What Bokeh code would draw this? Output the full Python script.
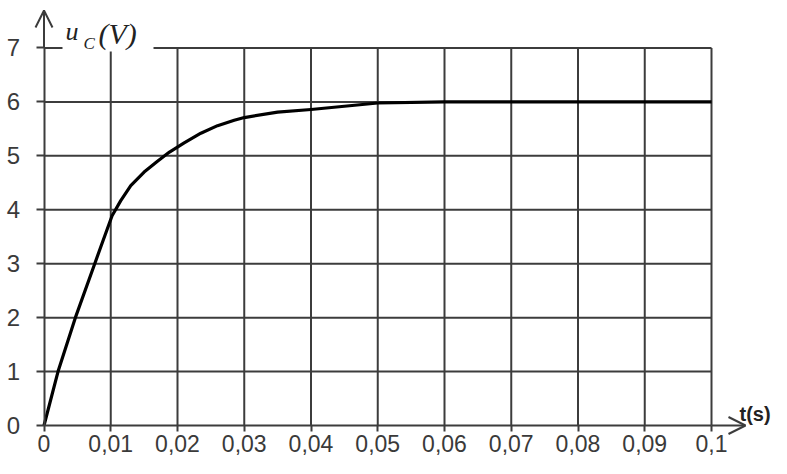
from bokeh.plotting import figure
from bokeh.models import Range1d, FixedTicker, Arrow, OpenHead, Label, BoxAnnotation, ColumnDataSource
from bokeh.embed import file_html
from bokeh.resources import INLINE

# ---- data ----
t_s = [0, 0.0021, 0.0047, 0.0076, 0.0085, 0.0102, 0.0115, 0.013, 0.015, 0.017, 0.0188,
       0.021, 0.0235, 0.026, 0.0285, 0.03, 0.035, 0.04, 0.045, 0.05, 0.06, 0.1]
u_c = [0, 1.0, 2.0, 3.0, 3.31, 3.89, 4.17, 4.45, 4.70, 4.90, 5.07,
       5.24, 5.42, 5.56, 5.66, 5.71, 5.81, 5.86, 5.92, 5.98, 6.0, 6.0]

x_ticks = [0, 0.01, 0.02, 0.03, 0.04, 0.05, 0.06, 0.07, 0.08, 0.09, 0.1]
x_tick_labels = ["0", "0,01", "0,02", "0,03", "0,04", "0,05", "0,06", "0,07", "0,08", "0,09", "0,1"]
y_ticks = [0, 1, 2, 3, 4, 5, 6, 7]
y_tick_labels = ["0", "1", "2", "3", "4", "5", "6", "7"]

x_label = "t(s)"
y_label_main = "u"
y_label_sub = "C"
y_label_unit = "(V)"

# ---- layout (pixel mapping of the reference) ----
W, H = 771, 458
X0_PX, Y0_PX = 43.5, 425.0   # where t=0 and u=0 fall inside the figure
PX_X = 6675.0                # pixels per second
PX_Y = 53.93                 # pixels per volt


def fx(px):  # reference pixel -> data x
    return (px - X0_PX) / PX_X


def fy(py):  # reference pixel -> data y
    return (Y0_PX - py) / PX_Y


GRID = "#3c3c3c"
TXT = "#3a3a3a"
FONT = "Liberation Sans"

p = figure(width=W, height=H, output_backend="svg", toolbar_location=None, title=None,
           x_range=Range1d(-X0_PX / PX_X, (W - X0_PX) / PX_X),
           y_range=Range1d(-(H - Y0_PX) / PX_Y, Y0_PX / PX_Y),
           min_border_left=0, min_border_right=0, min_border_top=0, min_border_bottom=0)
p.outline_line_color = None
p.background_fill_color = "white"
p.border_fill_color = "white"
p.xgrid.visible = False
p.ygrid.visible = False

# axes, fixed at the data origin
xa = p.xaxis[0]
xa.fixed_location = 0
xa.ticker = FixedTicker(ticks=x_ticks)
xa.major_label_overrides = {k: v for k, v in zip(x_ticks, x_tick_labels)}
xa.minor_tick_line_color = None
xa.major_tick_in = 0
xa.major_tick_out = 6
xa.major_tick_line_width = 2
xa.major_tick_line_color = GRID
xa.axis_line_width = 2
xa.axis_line_color = GRID
xa.major_label_standoff = 3
xa.major_label_text_font = FONT
xa.major_label_text_font_size = "23px"
xa.major_label_text_color = TXT
xa.bounds = (0, 0.1)

ya = p.yaxis[0]
ya.fixed_location = 0
ya.ticker = FixedTicker(ticks=y_ticks)
ya.major_label_overrides = {k: v for k, v in zip(y_ticks, y_tick_labels)}
ya.minor_tick_line_color = None
ya.major_tick_in = 0
ya.major_tick_out = 8
ya.major_tick_line_width = 2
ya.major_tick_line_color = GRID
ya.axis_line_width = 2
ya.axis_line_color = GRID
ya.major_label_standoff = 16
ya.major_label_text_font = FONT
ya.major_label_text_font_size = "24px"
ya.major_label_text_color = TXT
ya.bounds = (0, 7)

# grid as segments bounded to the data box
vx = x_ticks[1:]
p.segment(x0=vx, y0=[y_ticks[0]] * len(vx), x1=vx, y1=[y_ticks[-1]] * len(vx),
          line_color=GRID, line_width=2)
hy = y_ticks[1:]
p.segment(x0=[x_ticks[0]] * len(hy), y0=hy, x1=[x_ticks[-1]] * len(hy), y1=hy,
          line_color=GRID, line_width=2)

# curve
src = ColumnDataSource(data=dict(t=t_s, u=u_c))
p.line("t", "u", source=src, line_color="black", line_width=3.2, line_join="round")

# axis arrows
p.add_layout(Arrow(x_start=0, y_start=7, x_end=0, y_end=fy(10), line_color=GRID, line_width=2,
                   end=OpenHead(size=17, line_width=2, line_color=GRID)))
p.add_layout(Arrow(x_start=0.1, y_start=0, x_end=fx(745), y_end=0, line_color=GRID, line_width=2,
                   end=OpenHead(size=17, line_width=2, line_color=GRID)))

# white box behind the y label
p.add_layout(BoxAnnotation(left=fx(62), right=fx(153), bottom=fy(51), top=fy(0),
                           fill_color="white", fill_alpha=1.0, line_alpha=0))

# labels
p.add_layout(Label(x=fx(65), y=fy(31), text=y_label_main,
                   text_font="Liberation Serif", text_font_style="italic",
                   text_font_size="26px", text_color="#222222", text_baseline="alphabetic"))
p.add_layout(Label(x=fx(83), y=fy(43), text=y_label_sub,
                   text_font="Liberation Serif", text_font_style="italic",
                   text_font_size="17px", text_color="#222222", text_baseline="alphabetic"))
p.add_layout(Label(x=fx(98), y=fy(33), text=y_label_unit,
                   text_font="Liberation Serif", text_font_style="italic",
                   text_font_size="30px", text_color="#222222", text_baseline="alphabetic"))
p.add_layout(Label(x=fx(739), y=fy(413), text=x_label,
                   text_font=FONT, text_font_style="bold",
                   text_font_size="20px", text_color="#222222", text_baseline="alphabetic"))

open("out.html", "w").write(file_html(p, INLINE))
